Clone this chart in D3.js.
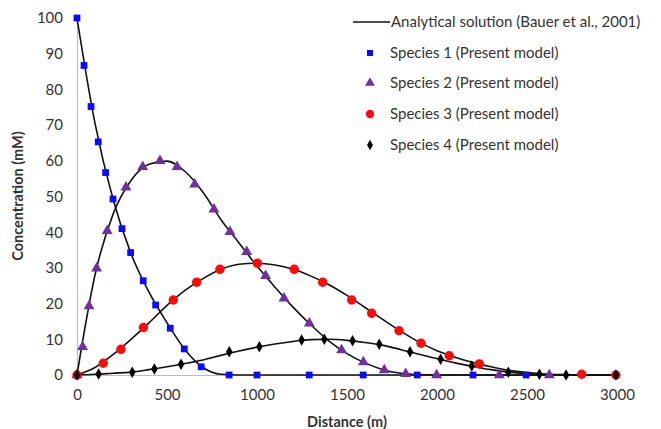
<!DOCTYPE html>
<html>
<head>
<meta charset="utf-8">
<script src="https://cdn.jsdelivr.net/npm/d3@7"></script>
<style>
  body { margin: 0; background: #fff; }
  text { font-family: Lato, "Open Sans", sans-serif; fill: #333; }
</style>
</head>
<body>
<div id="chart"></div>
<script>
// model points
let s1x = [0, 39, 78, 118, 159, 200, 250, 298, 368, 437, 518, 596, 690, 845, 1000, 1290, 1590, 1890, 2200, 2495];
let s1y = [100, 86.7, 75.2, 65.3, 56.7, 49.3, 41, 34.3, 26.4, 19.6, 13.1, 7.3, 2.3, 0, 0, 0, 0, 0, 0, 0];

let s2x = [0, 31, 67, 109, 168, 272, 365, 461, 556, 654, 761, 850, 943, 1048, 1150, 1291, 1470, 1591, 1707, 1826, 1998, 2346, 2624];
let s2y = [0, 7.9, 19.3, 29.9, 40.4, 52.6, 58.3, 60, 58.3, 53.4, 46.4, 40.1, 34.5, 27.8, 21.5, 14.5, 7, 3.6, 1.4, 0.3, 0, 0, 0];

let s3x = [0, 146, 244, 369, 535, 665, 794, 1002, 1207, 1365, 1526, 1637, 1789, 1911, 2068, 2235, 2804, 2994];
let s3y = [0, 3.3, 7.2, 13.3, 21, 26, 29.6, 31.3, 29.6, 26, 21, 17.3, 12.4, 8.9, 5.4, 3.1, 0.2, 0];

let s4x = [0, 120, 307, 430, 578, 846, 1013, 1248, 1374, 1531, 1679, 1850, 2020, 2193, 2396, 2569, 2717, 2994];
let s4y = [0, 0.3, 0.8, 1.7, 3, 6.5, 7.9, 9.8, 10, 9.6, 8.6, 6.5, 4.4, 2.5, 0.8, 0.2, 0, 0];

// analytical solution, read every 100 m
let ax = [0, 100, 200, 300, 400, 500, 600, 700, 800, 900, 1000, 1100, 1200, 1300, 1400, 1500, 1600, 1700, 1800, 1900, 2000, 2100, 2200, 2300, 2400, 2500, 2600, 2700, 2800, 2900, 3000];
let a1 = [100, 70.5, 49.3, 34, 23.2, 14.6, 7.1, 2.1, 0.2, 0, 0, 0, 0, 0, 0, 0, 0, 0, 0, 0, 0, 0, 0, 0, 0, 0, 0, 0, 0, 0, 0];
let a2 = [0, 28, 45, 54.5, 59, 59.9, 57, 51.2, 43.5, 37, 30.5, 24.6, 19, 14, 9.5, 6, 3.4, 1.5, 0.5, 0.1, 0, 0, 0, 0, 0, 0, 0, 0, 0, 0, 0];
let a3 = [0, 2.1, 5.7, 10, 14.6, 19.5, 23.7, 27, 29.6, 31, 31.3, 30.8, 29.6, 27.7, 25.3, 22.3, 18.9, 15.5, 12.2, 9.2, 6.8, 5, 3.5, 2.3, 1.3, 0.7, 0.3, 0.1, 0, 0, 0];
let a4 = [0, 0.2, 0.5, 0.8, 1.5, 2.3, 3.2, 4.2, 5.5, 6.7, 7.8, 8.7, 9.4, 9.9, 10, 9.7, 9.1, 8.3, 7.1, 5.8, 4.6, 3.4, 2.4, 1.5, 0.8, 0.4, 0.15, 0, 0, 0, 0];

let xTicks = [0, 500, 1000, 1500, 2000, 2500, 3000];
let yTicks = [0, 10, 20, 30, 40, 50, 60, 70, 80, 90, 100];

let legendLabels = ["Analytical solution (Bauer et al., 2001)", "Species 1 (Present model)", "Species 2 (Present model)", "Species 3 (Present model)", "Species 4 (Present model)"];

let width = 661, height = 429;
let svg = d3.select("#chart").append("svg")
  .attr("width", width)
  .attr("height", height);

let x = d3.scaleLinear().domain([0, 3000]).range([77, 617]);
let y = d3.scaleLinear().domain([0, 100]).range([375, 18]);

// axes
let xAxis = svg.append("g")
  .attr("transform", "translate(0," + y(0) + ")")
  .call(d3.axisBottom(x).tickValues(xTicks).tickFormat(d3.format("d")).tickSize(0).tickPadding(14));
let yAxis = svg.append("g")
  .attr("transform", "translate(" + x(0) + ",0)")
  .call(d3.axisLeft(y).tickValues(yTicks).tickFormat(d3.format("d")).tickSize(0).tickPadding(14));
[xAxis, yAxis].forEach(function (g) {
  g.select(".domain").attr("stroke", "#bdbdbd").attr("stroke-width", 1.2);
  g.selectAll("text").style("font-size", "15px").style("font-family", "Lato, sans-serif").style("fill", "#333");
});

svg.append("text")
  .attr("x", 347).attr("y", 427)
  .attr("text-anchor", "middle")
  .style("font-size", "14.5px").style("font-weight", "bold")
  .text("Distance (m)");
svg.append("text")
  .attr("transform", "translate(23,196) rotate(-90)")
  .attr("text-anchor", "middle")
  .style("font-size", "14.5px").style("font-weight", "bold")
  .text("Concentration (mM)");

// analytical lines
let line = d3.line()
  .x(function (d) { return x(d[0]); })
  .y(function (d) { return y(d[1]); })
  .curve(d3.curveMonotoneX);

[a1, a2, a3, a4].forEach(function (vals) {
  svg.append("path")
    .datum(ax.map(function (v, i) { return [v, vals[i]]; }))
    .attr("fill", "none")
    .attr("stroke", "#111")
    .attr("stroke-width", 1.6)
    .attr("d", line);
});

// markers
let series = [
  { xs: s1x, ys: s1y, sym: d3.symbolSquare, size: 46, color: "#0a0aff" },
  { xs: s2x, ys: s2y, sym: d3.symbolTriangle, size: 52, color: "#7030a0" },
  { xs: s3x, ys: s3y, sym: d3.symbolCircle, size: 70, color: "#ff0a0a" },
  { xs: s4x, ys: s4y, sym: d3.symbolDiamond, size: 38, color: "#000" }
];

series.forEach(function (s) {
  let pts = s.xs.map(function (v, i) { return [v, s.ys[i]]; });
  svg.append("g").selectAll("path")
    .data(pts)
    .enter().append("path")
    .attr("transform", function (d) { return "translate(" + x(d[0]) + "," + y(d[1]) + ")"; })
    .attr("d", d3.symbol().type(s.sym).size(s.size))
    .attr("fill", s.color);
});

// legend
let legend = svg.append("g");
let rowY = [22, 53, 83, 114, 145];
legend.append("line")
  .attr("x1", 353).attr("x2", 390)
  .attr("y1", rowY[0]).attr("y2", rowY[0])
  .attr("stroke", "#111").attr("stroke-width", 1.6);
series.forEach(function (s, i) {
  legend.append("path")
    .attr("transform", "translate(370," + rowY[i + 1] + ")")
    .attr("d", d3.symbol().type(s.sym).size(s.size * 0.8))
    .attr("fill", s.color);
});
legendLabels.forEach(function (t, i) {
  legend.append("text")
    .attr("x", i == 0 ? 391 : 390)
    .attr("y", rowY[i])
    .attr("dy", "0.35em")
    .style("font-size", "15px")
    .text(t);
});
</script>
</body>
</html>
